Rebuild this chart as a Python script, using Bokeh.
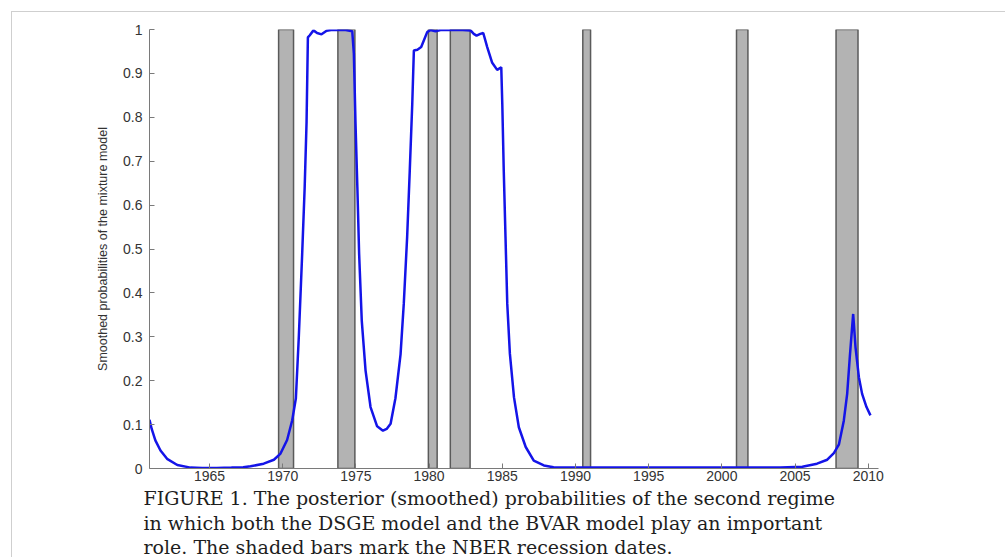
from bokeh.plotting import figure
from bokeh.models import FixedTicker, Title, Range1d
from bokeh.embed import file_html
from bokeh.resources import INLINE

# ---- data ----
years = [1960.90, 1961.05, 1961.30, 1961.65, 1962.10, 1962.80, 1963.70, 1964.50, 1965.50, 1966.50,
         1967.30, 1967.80, 1968.70, 1969.40, 1969.85, 1970.30, 1970.65, 1970.90, 1971.10, 1971.33,
         1971.50, 1971.63, 1971.72, 1971.85, 1972.10, 1972.35, 1972.65, 1973.00, 1973.30, 1973.80,
         1974.30, 1974.75, 1974.86, 1974.97, 1975.10, 1975.22, 1975.40, 1975.66, 1976.00, 1976.45,
         1976.85, 1977.10, 1977.37, 1977.70, 1978.05, 1978.27, 1978.50, 1978.68, 1978.85, 1978.96,
         1979.20, 1979.46, 1979.64, 1979.87, 1980.10, 1980.44, 1980.78, 1981.50, 1982.30, 1982.83,
         1983.05, 1983.24, 1983.50, 1983.70, 1983.97, 1984.30, 1984.65, 1984.93, 1985.00, 1985.10,
         1985.22, 1985.34, 1985.52, 1985.80, 1986.13, 1986.60, 1987.15, 1987.84, 1988.50, 1990.00,
         1995.00, 2000.00, 2004.00, 2005.50, 2006.50, 2007.20, 2007.65, 2008.00, 2008.33, 2008.56,
         2008.74, 2008.88, 2008.97, 2009.13, 2009.36, 2009.58, 2009.88, 2010.15]
probs = [0.111, 0.090, 0.064, 0.041, 0.022, 0.008, 0.002, 0.001, 0.001, 0.002,
         0.003, 0.005, 0.011, 0.020, 0.034, 0.065, 0.110, 0.160, 0.300, 0.489,
         0.640, 0.790, 0.982, 0.987, 0.998, 0.992, 0.989, 0.997, 0.999, 0.999,
         0.999, 0.996, 0.945, 0.790, 0.640, 0.489, 0.337, 0.223, 0.140, 0.096,
         0.086, 0.090, 0.102, 0.160, 0.260, 0.375, 0.527, 0.679, 0.831, 0.952,
         0.954, 0.960, 0.975, 0.994, 0.999, 0.996, 0.999, 0.999, 0.999, 0.998,
         0.990, 0.986, 0.990, 0.992, 0.960, 0.925, 0.908, 0.914, 0.831, 0.679,
         0.527, 0.375, 0.261, 0.162, 0.094, 0.049, 0.018, 0.007, 0.003, 0.002,
         0.002, 0.002, 0.002, 0.004, 0.011, 0.020, 0.035, 0.055, 0.109, 0.170,
         0.254, 0.314, 0.352, 0.276, 0.208, 0.170, 0.140, 0.121]

recession_start = [1969.72, 1973.77, 1979.95, 1981.45, 1990.50, 2001.00, 2007.80]
recession_end = [1970.74, 1974.93, 1980.55, 1982.80, 1991.03, 2001.78, 2009.30]

x_ticks = [1965, 1970, 1975, 1980, 1985, 1990, 1995, 2000, 2005, 2010]
y_ticks = [0, 0.1, 0.2, 0.3, 0.4, 0.5, 0.6, 0.7, 0.8, 0.9, 1]
y_tick_labels = ["0", "0.1", "0.2", "0.3", "0.4", "0.5", "0.6", "0.7", "0.8", "0.9", "1"]

y_label = "Smoothed probabilities of the mixture model"
caption_lines = [
    "FIGURE 1.  The posterior (smoothed) probabilities of the second regime",
    "in which both the DSGE model and the BVAR model play an important",
    "role. The shaded bars mark the NBER recession dates.",
]

# ---- figure ----
W, H = 1005, 557
FL, FT, FB, FR = 149, 29, 468, 878      # frame edges in canvas pixels
p = figure(width=W, height=H, output_backend="svg", toolbar_location=None,
           x_range=Range1d(1960.9, 2010.7), y_range=Range1d(0, 1),
           min_border_left=FL, min_border_right=W - FR, min_border_top=FT,
           min_border_bottom=H - FB)
p.outline_line_color = None
p.xgrid.visible = False
p.ygrid.visible = False
p.background_fill_color = "white"
p.border_fill_color = None
# thin gray page border (top and left) drawn behind the transparent canvas border
p.styles = {
    "background": ("linear-gradient(#cfcfcf, #cfcfcf) 11px 11px / 100% 1px no-repeat, "
                   "linear-gradient(#cfcfcf, #cfcfcf) 11px 11px / 1px 100% no-repeat, #ffffff"),
}

p.quad(left=recession_start, right=recession_end, bottom=0, top=1,
       fill_color="#b3b3b3", line_color="#5a5a5a", line_width=1.5)
p.line(years, probs, line_color="#1414e8", line_width=2.5)

for ax in (p.xaxis[0], p.yaxis[0]):
    ax.axis_line_color = "#7a7a7a"
    ax.major_tick_line_color = "#7a7a7a"
    ax.major_tick_in = 5
    ax.major_tick_out = 0
    ax.minor_tick_line_color = None
    ax.major_label_text_font = "Liberation Sans"
    ax.major_label_text_font_size = "14px"
    ax.major_label_text_color = "#333333"

p.xaxis.ticker = FixedTicker(ticks=x_ticks)
p.xaxis.major_label_standoff = 2
p.yaxis.ticker = FixedTicker(ticks=y_ticks)
p.yaxis.major_label_overrides = {t: s for t, s in zip(y_ticks, y_tick_labels)}
p.yaxis.major_label_standoff = 7
p.yaxis.axis_label = y_label
p.yaxis.axis_label_text_font = "Liberation Sans"
p.yaxis.axis_label_text_font_size = "12.5px"
p.yaxis.axis_label_text_font_style = "normal"
p.yaxis.axis_label_text_color = "#333333"
p.yaxis.axis_label_standoff = 10

# caption below the chart
for i, line in enumerate(caption_lines):
    p.add_layout(Title(text=line, align="left", offset=-6, standoff=2 if i == 0 else 0,
                       text_font="DejaVu Serif", text_font_size="19px",
                       text_font_style="normal", text_color="#1e1e1e",
                       text_line_height=1.1), "below")

open("out.html", "w").write(file_html(p, INLINE))
